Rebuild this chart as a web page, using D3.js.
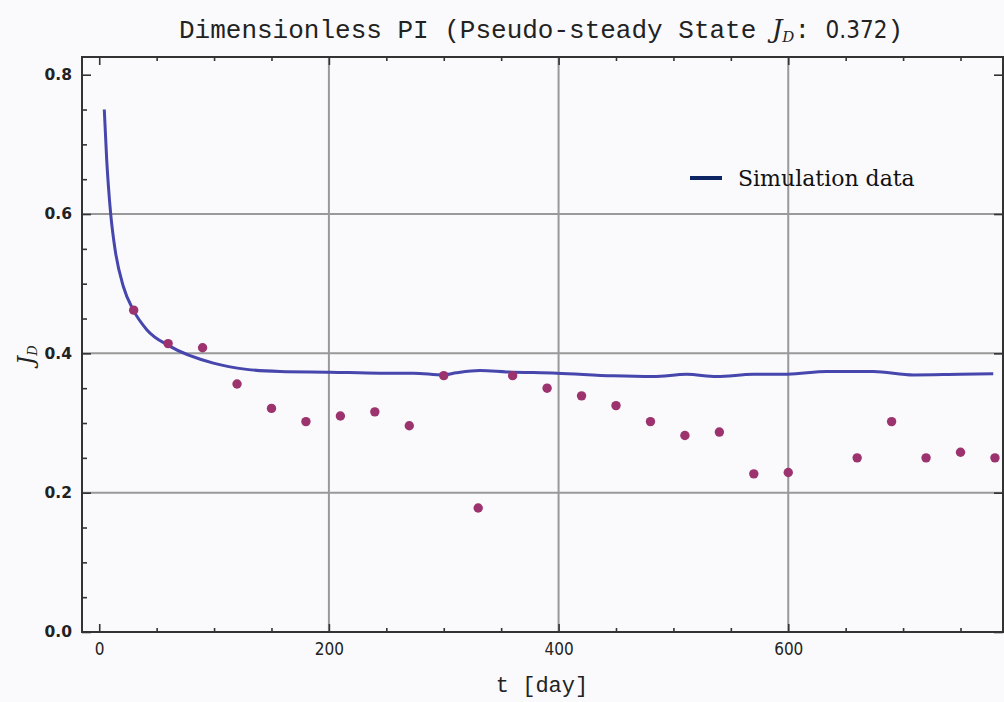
<!DOCTYPE html>
<html>
<head>
<meta charset="utf-8">
<script src="https://cdn.jsdelivr.net/npm/d3@7"></script>
<style>
  body { margin: 0; background: #fafafc; }
  svg { display: block; }
</style>
</head>
<body>
<div id="chart"></div>
<script>
var svgWidth = 1004;
var svgHeight = 702;

// simulation curve (t in days, dimensionless PI)
var simT = [4.4, 6.5, 8, 10, 13.8, 21, 29.7, 41.4, 61.7, 99.4, 128.4, 157.4, 201,
            244.5, 273.5, 299.6, 311, 331.6, 354.8, 398.4, 447.7, 482.5, 511.6, 537.7,
            569.6, 599.5, 633.5, 674, 709, 749.5, 778.5];
var simJ = [0.750, 0.678, 0.640, 0.600, 0.549, 0.496, 0.462, 0.434, 0.410, 0.386, 0.377,
            0.374, 0.373, 0.3716, 0.3716, 0.369, 0.372, 0.3753, 0.3734, 0.3716, 0.3677, 0.3667,
            0.370, 0.3667, 0.370, 0.370, 0.374, 0.374, 0.369, 0.370, 0.3706];

// measured points
var obsT = [30, 60, 90, 120, 150, 180, 210, 240, 270, 300, 330, 360, 390, 420, 450, 480,
            510, 540, 570, 600, 660, 690, 720, 750, 780];
var obsJ = [0.462, 0.414, 0.408, 0.356, 0.321, 0.302, 0.310, 0.316, 0.296, 0.368, 0.178,
            0.368, 0.350, 0.339, 0.325, 0.302, 0.282, 0.287, 0.227, 0.229, 0.250, 0.302,
            0.250, 0.258, 0.250];

var xMajor = [0, 200, 400, 600];
var xMinor = [50, 100, 150, 250, 300, 350, 450, 500, 550, 650, 700, 750];
var yMajor = [0.0, 0.2, 0.4, 0.6, 0.8];
var yMinor = [0.05, 0.1, 0.15, 0.25, 0.3, 0.35, 0.45, 0.5, 0.55, 0.65, 0.7, 0.75];
var xGrid = [200, 400, 600];
var yGrid = [0.2, 0.4, 0.6];

var plot = { left: 82, right: 1003, top: 57, bottom: 632 };

var svg = d3.select("#chart")
  .append("svg")
  .attr("width", svgWidth)
  .attr("height", svgHeight);

svg.append("rect")
  .attr("width", svgWidth)
  .attr("height", svgHeight)
  .attr("fill", "#fafafc");

var x = d3.scaleLinear().domain([-15, 787]).range([plot.left, plot.right]);
var y = d3.scaleLinear().domain([0, 0.8254]).range([plot.bottom, plot.top]);

// grid
svg.append("g").selectAll("line")
  .data(xGrid)
  .enter().append("line")
  .attr("x1", d => x(d)).attr("x2", d => x(d))
  .attr("y1", plot.top).attr("y2", plot.bottom)
  .attr("stroke", "#999").attr("stroke-width", 2);

svg.append("g").selectAll("line")
  .data(yGrid)
  .enter().append("line")
  .attr("x1", plot.left).attr("x2", plot.right)
  .attr("y1", d => y(d)).attr("y2", d => y(d))
  .attr("stroke", "#999").attr("stroke-width", 2);

// axes, ticks pointing inwards
function styleAxis(g) {
  g.select(".domain").remove();
  g.selectAll("line").attr("stroke", "#333").attr("stroke-width", 1.6);
}

svg.append("g")
  .attr("transform", `translate(0, ${plot.bottom})`)
  .call(d3.axisBottom(x).tickValues(xMinor).tickSize(-4).tickFormat(""))
  .call(styleAxis);

var xAxis = svg.append("g")
  .attr("transform", `translate(0, ${plot.bottom})`)
  .call(d3.axisBottom(x).tickValues(xMajor).tickSize(-8).tickPadding(9).tickFormat(d3.format("d")))
  .call(styleAxis);
xAxis.selectAll("text")
  .attr("fill", "#222")
  .attr("font-family", "'DejaVu Sans Condensed', 'Liberation Sans', sans-serif")
  .attr("font-size", 17)
  .attr("dy", "0.8em");

svg.append("g")
  .attr("transform", `translate(0, ${plot.top})`)
  .call(d3.axisTop(x).tickValues(xMinor).tickSize(-4).tickFormat(""))
  .call(styleAxis);
svg.append("g")
  .attr("transform", `translate(0, ${plot.top})`)
  .call(d3.axisTop(x).tickValues(xMajor).tickSize(-8).tickFormat(""))
  .call(styleAxis);

svg.append("g")
  .attr("transform", `translate(${plot.left}, 0)`)
  .call(d3.axisLeft(y).tickValues(yMinor).tickSize(-5).tickFormat(""))
  .call(styleAxis);

var yAxis = svg.append("g")
  .attr("transform", `translate(${plot.left}, 0)`)
  .call(d3.axisLeft(y).tickValues(yMajor).tickSize(-9).tickPadding(10).tickFormat(d3.format(".1f")))
  .call(styleAxis);
yAxis.selectAll("text")
  .attr("fill", "#222")
  .attr("font-family", "'DejaVu Sans', sans-serif")
  .attr("font-weight", "bold")
  .attr("font-size", 15.5);

svg.append("g")
  .attr("transform", `translate(${plot.right}, 0)`)
  .call(d3.axisRight(y).tickValues(yMajor).tickSize(-9).tickFormat(""))
  .call(styleAxis);

// frame
svg.append("rect")
  .attr("x", plot.left).attr("y", plot.top)
  .attr("width", plot.right - plot.left)
  .attr("height", plot.bottom - plot.top)
  .attr("fill", "none")
  .attr("stroke", "#333")
  .attr("stroke-width", 2);

// simulation line
var simData = simT.map((t, i) => ({ t: t, j: simJ[i] }));
var line = d3.line()
  .x(d => x(d.t))
  .y(d => y(d.j))
  .curve(d3.curveMonotoneX);

svg.append("path")
  .datum(simData)
  .attr("d", line)
  .attr("fill", "none")
  .attr("stroke", "#4646ad")
  .attr("stroke-width", 3)
  .attr("stroke-linejoin", "round");

// points
var obsData = obsT.map((t, i) => ({ t: t, j: obsJ[i] }));
svg.append("g").selectAll("circle")
  .data(obsData)
  .enter().append("circle")
  .attr("cx", d => x(d.t))
  .attr("cy", d => y(d.j))
  .attr("r", 4.7)
  .attr("fill", "#9c336e");

// title
var title = svg.append("text")
  .attr("x", 541)
  .attr("y", 38)
  .attr("text-anchor", "middle")
  .attr("font-family", "'Courier New', 'Liberation Mono', monospace")
  .attr("font-size", 26)
  .attr("fill", "#222");
title.append("tspan").text("Dimensionless PI (Pseudo-steady State ");
title.append("tspan").attr("font-style", "italic").attr("font-family", "'DejaVu Serif', serif").text("J");
title.append("tspan").attr("font-style", "italic").attr("font-family", "'DejaVu Serif', serif")
  .attr("font-size", 15).attr("dy", 4).text("D");
title.append("tspan").attr("dy", -4).text(": ");
title.append("tspan").attr("font-family", "'DejaVu Sans Condensed', sans-serif").attr("font-size", 24).text("0.372");
title.append("tspan").text(")");

// axis labels
svg.append("text")
  .attr("x", 542)
  .attr("y", 692)
  .attr("text-anchor", "middle")
  .attr("font-family", "'Courier New', 'Liberation Mono', monospace")
  .attr("font-size", 22)
  .attr("fill", "#222")
  .text("t [day]");

var yLabel = svg.append("text")
  .attr("transform", "translate(33, 355) rotate(-90)")
  .attr("text-anchor", "middle")
  .attr("font-family", "'DejaVu Serif', serif")
  .attr("font-style", "italic")
  .attr("font-size", 22)
  .attr("fill", "#222");
yLabel.append("tspan").text("J");
yLabel.append("tspan").attr("font-size", 13).attr("dy", 4).text("D");

// legend
svg.append("line")
  .attr("x1", 690).attr("x2", 722)
  .attr("y1", 178).attr("y2", 178)
  .attr("stroke", "#0d2462")
  .attr("stroke-width", 4);

svg.append("text")
  .attr("x", 738)
  .attr("y", 186)
  .attr("font-family", "'DejaVu Serif', 'Liberation Serif', serif")
  .attr("font-size", 22)
  .attr("fill", "#111")
  .text("Simulation data");
</script>
</body>
</html>
